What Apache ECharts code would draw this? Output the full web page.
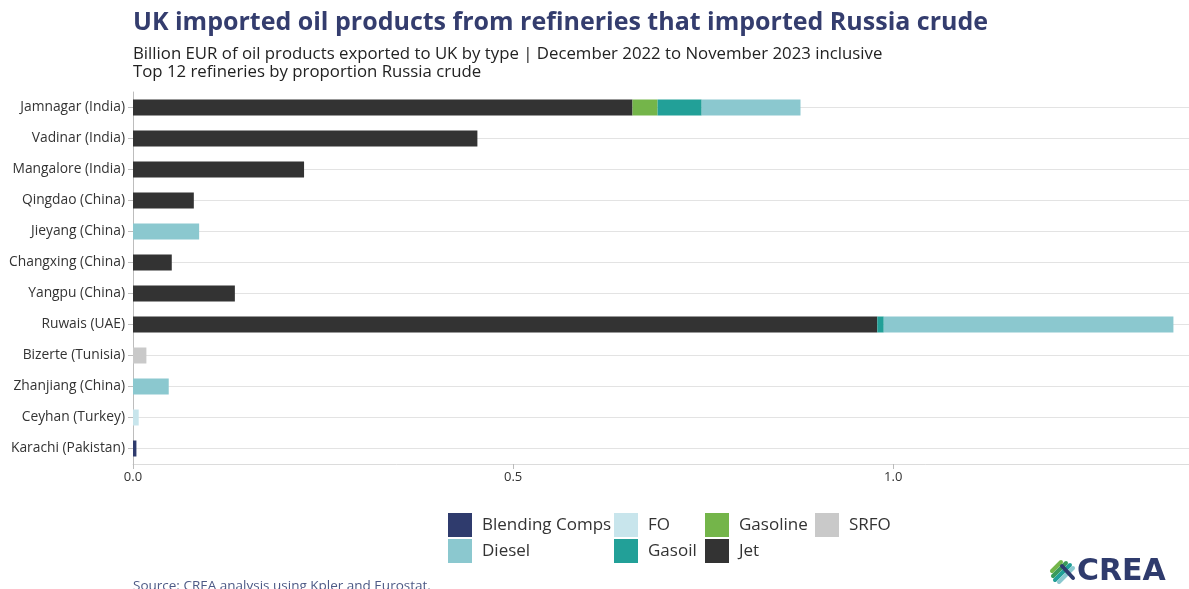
<!DOCTYPE html>
<html>
<head>
<meta charset="utf-8">
<script src="https://cdn.jsdelivr.net/npm/echarts@6/dist/echarts.min.js"></script>
<style>html,body{margin:0;padding:0;background:#fff}#c{width:1189px;height:589px}</style>
</head>
<body>
<div id="c"></div>
<script>
const categories = ['Jamnagar (India)','Vadinar (India)','Mangalore (India)','Qingdao (China)','Jieyang (China)','Changxing (China)','Yangpu (China)','Ruwais (UAE)','Bizerte (Tunisia)','Zhanjiang (China)','Ceyhan (Turkey)','Karachi (Pakistan)'];
const jet      = [0.657,0.453,0.225,0.080,0,0.051,0.134,0.979,0,0,0,0];
const gasoline = [0.033,0,0,0,0,0,0,0,0,0,0,0];
const gasoil   = [0.058,0,0,0,0,0,0,0.0085,0,0,0,0];
const diesel   = [0.130,0,0,0,0.087,0,0,0.381,0,0.047,0,0];
const fo       = [0,0,0,0,0,0,0,0,0,0,0.0075,0];
const srfo     = [0,0,0,0,0,0,0,0,0.0176,0,0,0];
const blending = [0,0,0,0,0,0,0,0,0,0,0,0.0045];
const xTicks = [0, 0.5, 1.0];

const colors = {
  'Blending Comps':'#2f3b6d','FO':'#c8e5ec','Gasoline':'#74b54a','SRFO':'#c9c9c9',
  'Diesel':'#8bc8cf','Gasoil':'#22a098','Jet':'#333333'
};
const seriesDefs = [
  ['Jet', jet], ['Gasoline', gasoline], ['Gasoil', gasoil], ['Diesel', diesel],
  ['FO', fo], ['SRFO', srfo], ['Blending Comps', blending]
];
const FONT = '"Open Sans", "Noto Sans", sans-serif';
const chart = echarts.init(document.getElementById('c'), null, {renderer:'canvas'});

const series = seriesDefs.map(([name, vals], i) => {
  const s = {
    name, type:'bar', stack:'total', barWidth:16, z:2,
    itemStyle:{color:colors[name]},
    emphasis:{disabled:true},
    data: vals.map(v => v === 0 ? null : v)
  };
  if (i === 0) {
    s.markLine = {
      silent:true, symbol:'none', z:1,
      label:{show:false},
      lineStyle:{color:'#e3e3e3', type:'solid', width:1},
      data: categories.map(c => ({yAxis:c}))
    };
  }
  return s;
});

const legendPos = [
  ['Blending Comps',448,513],['FO',614,513],['Gasoline',705,513],['SRFO',815,513],
  ['Diesel',448,539],['Gasoil',614,539],['Jet',705,539]
];
const legends = legendPos.map(([n,x,y]) => ({
  data:[n], left:x, top:y, padding:0, itemWidth:24, itemHeight:24, icon:'rect',
  selectedMode:false,
  textStyle:{fontFamily:FONT, fontSize:17, color:'#333', padding:[0,0,0,5]}
}));

const logoStripes = [
  [1052,571,1061,562,'#74b54a'],
  [1053,576,1066,563,'#3a9a5a'],
  [1055,580,1070,565,'#22a098'],
  [1059,582,1073,568,'#8bc8cf'],
  [1062,566,1073,578,'#2f3b6d']
];

chart.setOption({
  animation:false,
  textStyle:{fontFamily:FONT},
  title:[
    {text:'UK imported oil products from refineries that imported Russia crude', left:128, top:5,
     textStyle:{fontFamily:FONT, fontSize:25, fontWeight:'bold', color:'#343d6e'}},
    {text:'Billion EUR of oil products exported to UK by type | December 2022 to November 2023 inclusive\nTop 12 refineries by proportion Russia crude',
     left:128, top:40, textStyle:{fontFamily:FONT, fontSize:16.8, fontWeight:'normal', color:'#222', lineHeight:18}},
    {text:'Source: CREA analysis using Kpler and Eurostat.', left:128, top:574,
     textStyle:{fontFamily:FONT, fontSize:13.5, fontWeight:'normal', color:'#4d5a86'}}
  ],
  legend: legends,
  grid:{left:133, right:0, top:92, height:372, containLabel:false},
  xAxis:{
    type:'value', min:0, max:1.389, interval:0.5,
    splitLine:{show:false},
    axisLine:{show:true, lineStyle:{color:'#dcdcdc', width:1}},
    axisTick:{show:true, length:5, lineStyle:{color:'#bbbbbb'}, customValues:xTicks},
    axisLabel:{customValues:xTicks, formatter:v => v.toFixed(1), fontFamily:FONT, fontSize:13, color:'#333', margin:7}
  },
  yAxis:{
    type:'category', data:categories, inverse:true,
    axisLine:{show:true, lineStyle:{color:'#bdbdbd', width:1}},
    axisTick:{show:true, alignWithLabel:true, length:5, lineStyle:{color:'#bdbdbd'}},
    axisLabel:{fontFamily:FONT, fontSize:13.8, color:'#333', margin:8},
    splitLine:{show:false}
  },
  series,
  graphic: logoStripes.map(([x1,y1,x2,y2,c]) => ({
    type:'line', shape:{x1,y1,x2,y2}, silent:true,
    style:{stroke:c, lineWidth:4, lineCap:'round'}
  })).concat([
    {type:'text', x:1077, y:557, silent:true,
     style:{text:'CREA', font:'bold 30px "DejaVu Sans", sans-serif', fill:'#2f3b6d'}}
  ])
});
</script>
</body>
</html>
